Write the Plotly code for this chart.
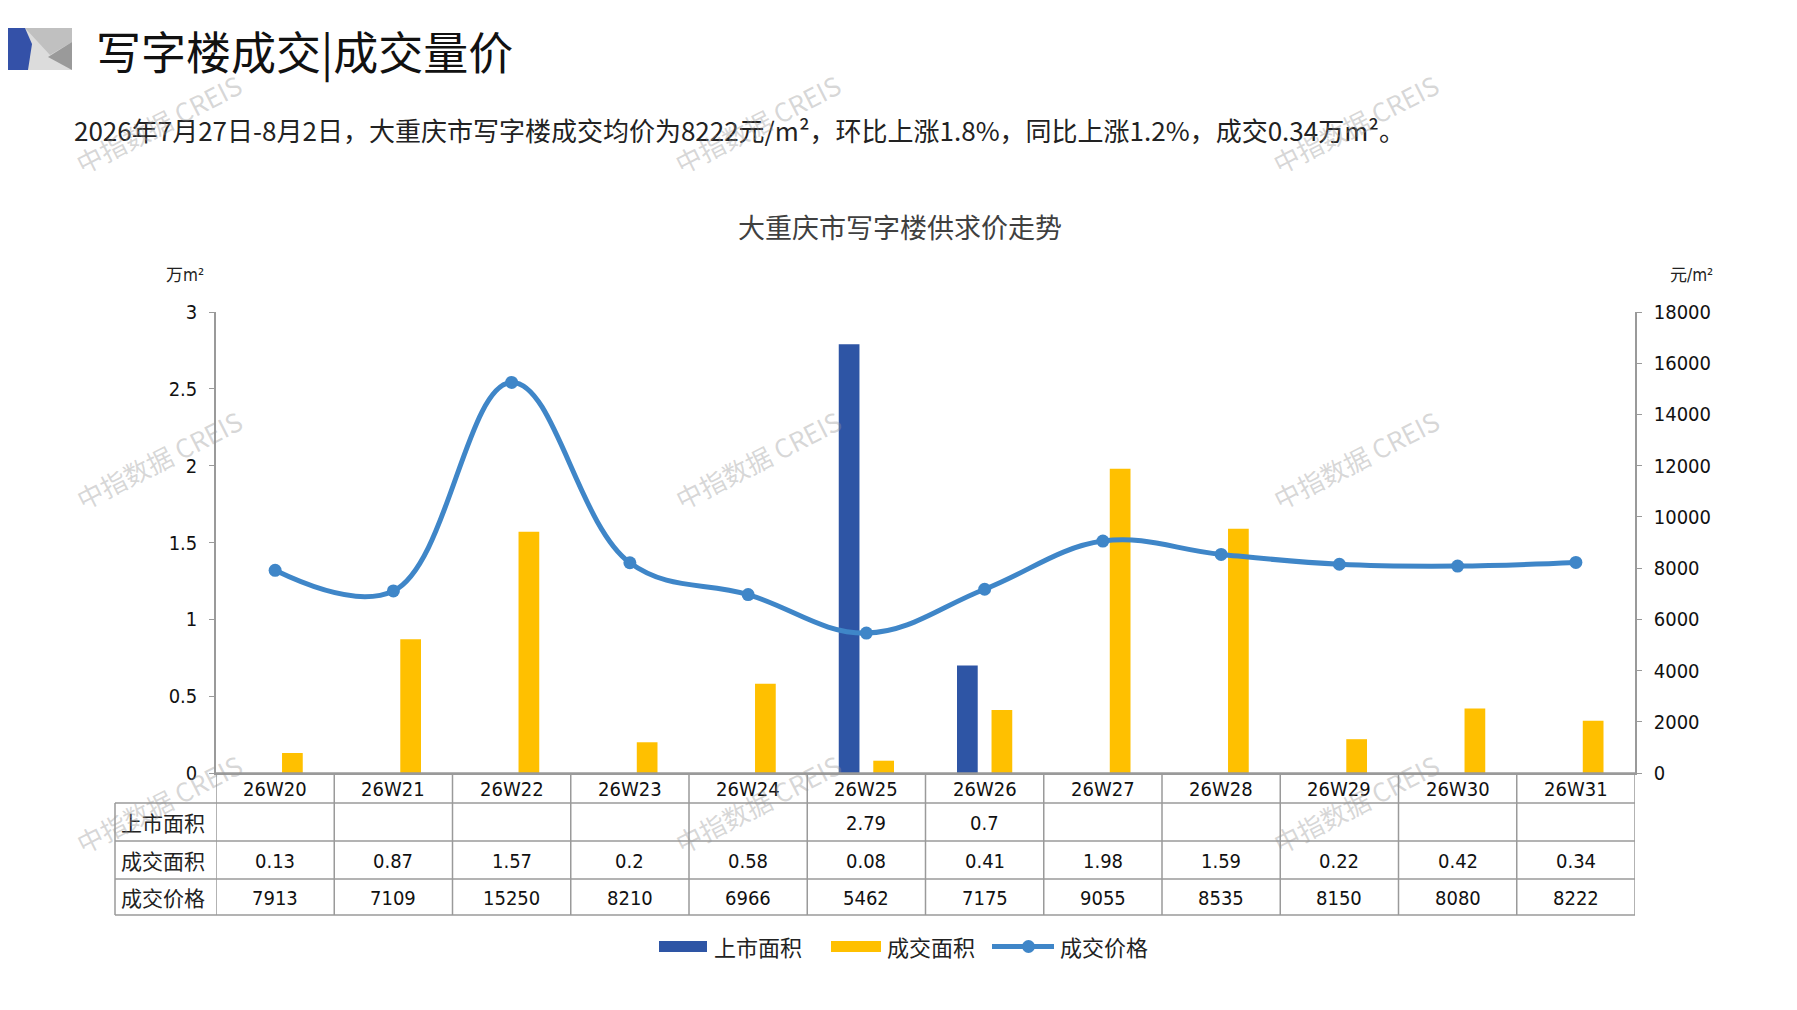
import plotly.graph_objects as go

# ---- data ----
weeks = ["26W20", "26W21", "26W22", "26W23", "26W24", "26W25",
         "26W26", "26W27", "26W28", "26W29", "26W30", "26W31"]
listing_area = [None, None, None, None, None, 2.79, 0.7, None, None, None, None, None]
deal_area = [0.13, 0.87, 1.57, 0.2, 0.58, 0.08, 0.41, 1.98, 1.59, 0.22, 0.42, 0.34]
deal_price = [7913, 7109, 15250, 8210, 6966, 5462, 7175, 9055, 8535, 8150, 8080, 8222]
row_names = ["上市面积", "成交面积", "成交价格"]

title_text = "写字楼成交|成交量价"
subtitle_text = ("2026年7月27日-8月2日，大重庆市写字楼成交均价为8222元/m²，"
                 "环比上涨1.8%，同比上涨1.2%，成交0.34万m²。")
chart_title = "大重庆市写字楼供求价走势"

BLUE = "#2E55A5"
YELLOW = "#FFC000"
LINE = "#3F86C8"
GRID = "#9a9a9a"
CJK = "Noto Sans CJK SC"
NUM = "DejaVu Sans Condensed, Liberation Sans Narrow, Roboto, Noto Sans CJK SC"

# page / plot-area geometry in (screenshot) pixels
W, H = 1797, 1010
OFF = 8  # page body margin
L, R, T, B = 216, 1635, 312, 773


def px_x(x):
    return (x - L) / (R - L)


def px_y(y):
    return (B - y) / (B - T)


def note(x, y, text, size, family=CJK, color="#222", xanchor="center", **kw):
    return dict(x=px_x(x), y=px_y(y), xref="paper", yref="paper", text=text,
                showarrow=False, xanchor=xanchor, yanchor="middle",
                font=dict(family=family, size=size, color=color), **kw)


fig = go.Figure()

fig.add_trace(go.Bar(x=weeks, y=listing_area, name="上市面积",
                     marker=dict(color=BLUE, line=dict(width=0))))
fig.add_trace(go.Bar(x=weeks, y=deal_area, name="成交面积",
                     marker=dict(color=YELLOW, line=dict(width=0))))
fig.add_trace(go.Scatter(x=weeks, y=deal_price, name="成交价格", yaxis="y2",
                         mode="lines+markers",
                         line=dict(color=LINE, width=5, shape="spline", smoothing=1.1),
                         marker=dict(color=LINE, size=13)))

shapes = []
annotations = []

# table grid
row_edges = [773, 803, 841, 879, 915]
for i in range(len(weeks) + 1):
    shapes.append(dict(type="line", xref="x", yref="paper",
                       x0=i - 0.5, x1=i - 0.5, y0=px_y(773), y1=px_y(915),
                       line=dict(color=GRID, width=1.5)))
for k, ye in enumerate(row_edges):
    x_start = L if k == 0 else 115
    shapes.append(dict(type="line", xref="paper", yref="paper",
                       x0=px_x(x_start), x1=px_x(R), y0=px_y(ye), y1=px_y(ye),
                       line=dict(color=GRID, width=1.5)))
shapes.append(dict(type="line", xref="paper", yref="paper",
                   x0=px_x(115), x1=px_x(115), y0=px_y(803), y1=px_y(915),
                   line=dict(color=GRID, width=1.5)))

# table text
row_centers = [(row_edges[k] + row_edges[k + 1]) / 2 for k in range(4)]
rows = [listing_area, deal_area, deal_price]
for i, wk in enumerate(weeks):
    annotations.append(dict(x=i, y=px_y(row_centers[0] + 1), xref="x", yref="paper",
                            text=wk, showarrow=False, xanchor="center", yanchor="middle",
                            font=dict(family=NUM, size=20, color="#111")))
    for k, vals in enumerate(rows):
        v = vals[i]
        if v is None:
            continue
        annotations.append(dict(x=i, y=px_y(row_centers[k + 1] + 1), xref="x",
                                yref="paper", text=f"{v:g}", showarrow=False,
                                xanchor="center", yanchor="middle",
                                font=dict(family=NUM, size=20, color="#111")))
for k, name in enumerate(row_names):
    annotations.append(note(119, row_centers[k + 1], name, 21, xanchor="left"))

# unit labels
annotations.append(note(185, 275, "万m²", 17, family=NUM))
annotations.append(note(1691, 275, "元/m²", 17, family=NUM))

# headline, subtitle, chart title
annotations.append(note(94, 50, title_text, 45, color="#111", xanchor="left"))
annotations.append(note(72, 130, subtitle_text, 26, xanchor="left"))
annotations.append(note(900, 226, chart_title, 27, color="#404040"))


# logo block at top-left
def poly(pts, color):
    path = "M " + " L ".join(f"{px_x(x)},{px_y(y)}" for x, y in pts) + " Z"
    return dict(type="path", xref="paper", yref="paper", path=path,
                fillcolor=color, line=dict(width=0))


shapes.append(poly([(0, 28), (72, 28), (72, 70), (0, 70)], "#dcdcdc"))
shapes.append(poly([(25, 28), (72, 28), (72, 42), (50, 55)], "#c0c0c0"))
shapes.append(poly([(72, 42), (72, 70), (48, 57)], "#9a9a9a"))
shapes.append(poly([(0, 28), (25, 28), (32, 44), (28, 70), (0, 70)], "#3451A8"))

# custom legend
shapes.append(dict(type="rect", xref="paper", yref="paper",
                   x0=px_x(659), x1=px_x(707), y0=px_y(941), y1=px_y(952),
                   fillcolor=BLUE, line=dict(width=0)))
shapes.append(dict(type="rect", xref="paper", yref="paper",
                   x0=px_x(831), x1=px_x(881), y0=px_y(941), y1=px_y(952),
                   fillcolor=YELLOW, line=dict(width=0)))
shapes.append(dict(type="line", xref="paper", yref="paper",
                   x0=px_x(992), x1=px_x(1054), y0=px_y(946.5), y1=px_y(946.5),
                   line=dict(color=LINE, width=5)))
shapes.append(dict(type="circle", xref="paper", yref="paper",
                   x0=px_x(1022), x1=px_x(1035), y0=px_y(940), y1=px_y(953),
                   fillcolor=LINE, line=dict(width=0)))
for x0, name in ((712, "上市面积"), (885, "成交面积"), (1058, "成交价格")):
    annotations.append(note(x0, 946, name, 22, xanchor="left"))

# watermarks
for wx in (158, 757, 1355):
    for wy in (124, 459, 803):
        annotations.append(note(wx, wy, "中指数据 CREIS", 26,
                                family="Noto Sans CJK SC, Liberation Sans",
                                color="rgba(150,150,150,0.38)", textangle=-27))

DW, DH = W - 2 * OFF, H - 2 * OFF
fig.update_layout(
    width=DW, height=DH,
    margin=dict(l=L - OFF, r=DW - (R - OFF), t=T - OFF, b=DH - (B - OFF), pad=0),
    paper_bgcolor="white", plot_bgcolor="white",
    showlegend=False,
    barmode="group", bargap=0.416, bargroupgap=0.4,
    xaxis=dict(range=[-0.5, len(weeks) - 0.5], showticklabels=False, ticks="",
               showline=True, linecolor=GRID, linewidth=1.5, showgrid=False,
               zeroline=False),
    yaxis=dict(range=[0, 3], dtick=0.5, showgrid=False, zeroline=False,
               showline=True, linecolor=GRID, linewidth=1.5, ticks="outside",
               ticklen=5, tickcolor=GRID, ticklabelstandoff=8,
               tickfont=dict(family=NUM, size=20, color="#111")),
    yaxis2=dict(range=[0, 18000], dtick=2000, tickformat="d", overlaying="y",
                side="right", showgrid=False, zeroline=False, showline=True,
                linecolor=GRID, linewidth=1.5, ticks="outside", ticklen=5,
                tickcolor=GRID, ticklabelstandoff=8,
                tickfont=dict(family=NUM, size=20, color="#111")),
    shapes=shapes,
    annotations=annotations,
)

fig.write_html("out.html")
